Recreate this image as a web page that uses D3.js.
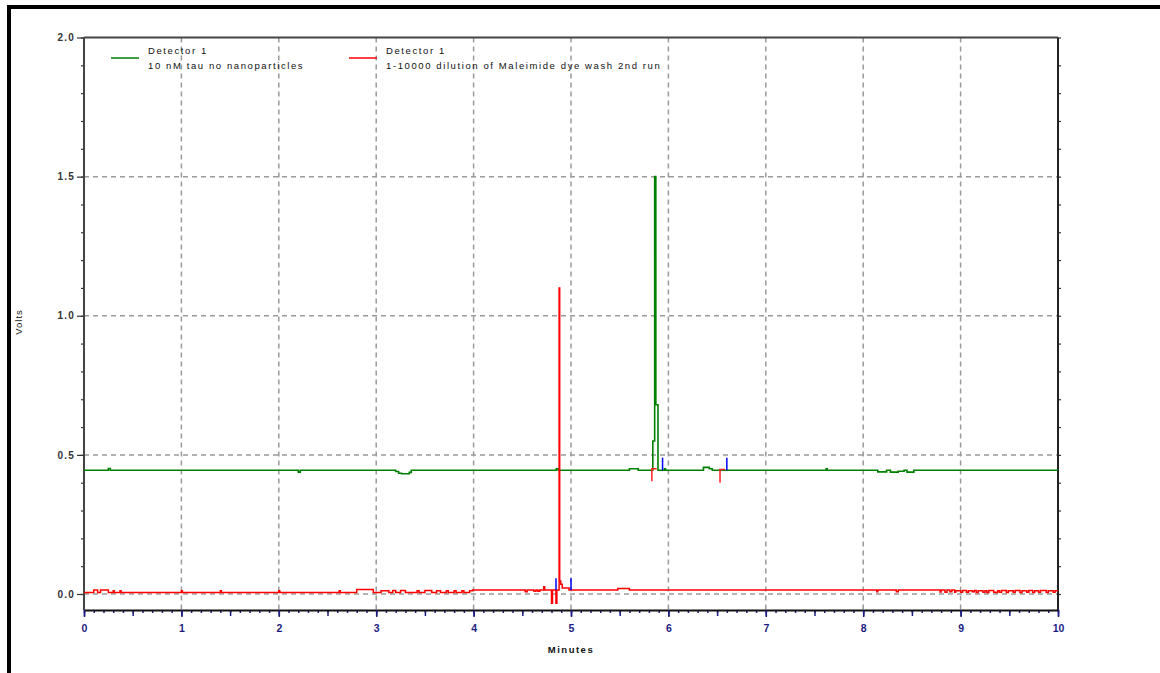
<!DOCTYPE html>
<html>
<head>
<meta charset="utf-8">
<script src="https://cdn.jsdelivr.net/npm/d3@7"></script>
<style>
body { margin: 0; background: #fff; }
svg { display: block; }
.lbl { font-family: "Liberation Sans", Arial, sans-serif; font-size: 9.5px; letter-spacing: 1.6px; fill: #111; }
.xtick text { font-family: "Liberation Sans", Arial, sans-serif; font-size: 10.5px; font-weight: bold; fill: #1c1c80; }
.ytick text { font-family: "Liberation Sans", Arial, sans-serif; font-size: 10px; font-weight: bold; letter-spacing: 1.2px; fill: #333; }
</style>
</head>
<body>
<svg id="chart" width="1160" height="673"></svg>
<script>
// axis labels
const xTickLabels = [0, 1, 2, 3, 4, 5, 6, 7, 8, 9, 10];
const yTickLabels = [0, 0.5, 1.0, 1.5, 2.0];
const xGrid = [1, 2, 3, 4, 5, 6, 7, 8, 9];
const yGrid = [0, 0.5, 1.0, 1.5];

// Detector 1 - 10 nM tau no nanoparticles  [minutes, volts], step-after
const greenSeries = [
    [0, 0.445], [0.25, 0.451], [0.27, 0.445], [2.2, 0.438], [2.22, 0.445],
    [3.2, 0.44], [3.23, 0.434], [3.26, 0.432], [3.34, 0.437], [3.36, 0.445],
    [4.85, 0.45], [4.87, 0.445], [5.6, 0.45], [5.69, 0.445],
    [5.84, 0.55], [5.859, 1.5], [5.871, 0.68], [5.893, 0.445],
    [5.96, 0.45], [5.97, 0.445], [6.36, 0.455], [6.42, 0.45], [6.45, 0.445],
    [7.62, 0.45], [7.63, 0.445], [8.15, 0.439], [8.24, 0.445], [8.28, 0.438],
    [8.36, 0.441], [8.42, 0.445], [8.45, 0.438], [8.52, 0.445], [10, 0.445],
];

// Detector 1 - 1-10000 dilution of Maleimide dye wash 2nd run
const redSeries = [
    [0, 0.005], [0.1, 0.014], [0.14, 0.005], [0.17, 0.014], [0.25, 0.005],
    [0.3, 0.012], [0.31, 0.005], [0.37, 0.012], [0.38, 0.005],
    [1.0, 0.012], [1.01, 0.005], [1.4, 0.012], [1.41, 0.005],
    [2.0, 0.012], [2.01, 0.005], [2.62, 0.012], [2.63, 0.005],
    [2.8, 0.016], [2.97, 0.005], [3.05, 0.012], [3.13, 0.005], [3.17, 0.013],
    [3.2, 0.005], [3.25, 0.013], [3.3, 0.005], [3.42, 0.012], [3.44, 0.005],
    [3.5, 0.013], [3.57, 0.005], [3.62, 0.012], [3.66, 0.005], [3.72, 0.012],
    [3.74, 0.005], [3.8, 0.012], [3.82, 0.005], [3.88, 0.012], [3.9, 0.005],
    [3.96, 0.012], [3.99, 0.014],
    [4.53, 0.008], [4.55, 0.014], [4.62, 0.01], [4.64, 0.014], [4.66, 0.01],
    [4.68, 0.014], [4.72, 0.026], [4.73, 0.014], [4.8, -0.033], [4.81, 0.014],
    [4.845, -0.033], [4.855, 0.014], [4.878, 1.1], [4.884, 0.047], [4.895, 0.035],
    [4.91, 0.022], [4.98, 0.014], [5.48, 0.02], [5.6, 0.014],
    [8.14, 0.008], [8.15, 0.014], [8.34, 0.008], [8.36, 0.014],
    [8.79, 0.007], [8.8, 0.014], [8.84, 0.006], [8.86, 0.014], [8.89, 0.008],
    [8.91, 0.014], [8.94, 0.006], [8.95, 0.012], [9.0, 0.006], [9.02, 0.013],
    [9.06, 0.006], [9.08, 0.012], [9.12, 0.008], [9.14, 0.013], [9.16, 0.005],
    [9.18, 0.012], [9.23, 0.006], [9.25, 0.012], [9.27, 0.005], [9.29, 0.013],
    [9.34, 0.006], [9.36, 0.005], [9.38, 0.012], [9.4, 0.006], [9.42, 0.013],
    [9.47, 0.005], [9.49, 0.012], [9.54, 0.006], [9.56, 0.013], [9.61, 0.005],
    [9.63, 0.012], [9.68, 0.006], [9.7, 0.013], [9.74, 0.005], [9.76, 0.012],
    [9.8, 0.006], [9.82, 0.013], [9.88, 0.005], [9.9, 0.012], [9.95, 0.006],
    [9.97, 0.012], [10, 0.012],
];

// event marks drawn over the traces
const redMarks = [
    [[5.83, 0.405], [5.83, 0.45], [5.88, 0.45]],
    [[6.53, 0.4], [6.53, 0.447], [6.58, 0.447]],
];
const blueMarks = [
    [4.846, 0.014, 0.057],
    [5.0, 0.014, 0.057],
    [5.94, 0.445, 0.49],
    [6.6, 0.445, 0.49],
];

const legendItems = [
    { color: '#008000', lines: ['Detector 1', '10 nM tau no nanoparticles'] },
    { color: '#ff0000', lines: ['Detector 1', '1-10000 dilution of Maleimide dye wash 2nd run'] },
];

const svg = d3.select('#chart');
const x = d3.scaleLinear().domain([0, 10]).range([84, 1058]);
const y = d3.scaleLinear().domain([0, 2]).range([594, 37.5]);
const yMin = y.invert(610);

// page border
svg.append('rect').attr('x', 7).attr('y', 5).attr('width', 1153).attr('height', 4).attr('fill', '#000');
svg.append('rect').attr('x', 7).attr('y', 5).attr('width', 4).attr('height', 668).attr('fill', '#000');

svg.append('clipPath').attr('id', 'plotClip')
    .append('rect')
    .attr('x', x(0)).attr('y', y(2))
    .attr('width', x(10) - x(0)).attr('height', y(yMin) - y(2));

// grid
const grid = svg.append('g').attr('stroke', '#9a9a9a').attr('stroke-width', 1.5).attr('stroke-dasharray', '5,4');
grid.selectAll('.gx').data(xGrid).enter().append('line')
    .attr('x1', d => x(d)).attr('x2', d => x(d))
    .attr('y1', y(2)).attr('y2', y(yMin));
grid.selectAll('.gy').data(yGrid).enter().append('line')
    .attr('x1', x(0)).attr('x2', x(10))
    .attr('y1', d => y(d)).attr('y2', d => y(d));

// bottom axis: minor, half and whole minute ticks
const minor = d3.range(0, 101).map(v => v / 10);
svg.append('g').attr('transform', `translate(0,${y(yMin)})`)
    .call(d3.axisBottom(x).tickValues(minor).tickSize(3).tickSizeOuter(0).tickFormat(''))
    .call(g => g.selectAll('.tick line').attr('stroke', '#1c1c80').attr('stroke-width', 1.5));
svg.append('g').attr('transform', `translate(0,${y(yMin)})`)
    .call(d3.axisBottom(x).tickValues(d3.range(0, 21).map(v => v / 2)).tickSize(6).tickSizeOuter(0).tickFormat(''))
    .call(g => g.selectAll('.tick line').attr('stroke', '#1c1c80').attr('stroke-width', 1.5));
svg.append('g').attr('class', 'xtick').attr('transform', `translate(0,${y(yMin)})`)
    .call(d3.axisBottom(x).tickValues(xTickLabels).tickSize(7).tickSizeOuter(0).tickPadding(8).tickFormat(d3.format('d')))
    .call(g => g.selectAll('.tick line').attr('stroke', '#1c1c80').attr('stroke-width', 1.5))
    .call(g => g.select('.domain').attr('stroke', '#111').attr('stroke-width', 2));

// left axis
const yMinor = d3.range(0, 21).map(v => v / 10);
svg.append('g').attr('transform', `translate(${x(0)},0)`)
    .call(d3.axisLeft(y).tickValues(yMinor).tickSize(3).tickSizeOuter(0).tickFormat(''))
    .call(g => g.selectAll('.tick line').attr('stroke', '#333').attr('stroke-width', 1.2))
    .call(g => g.select('.domain').remove());
svg.append('g').attr('class', 'ytick').attr('transform', `translate(${x(0)},0)`)
    .call(d3.axisLeft(y).tickValues(yTickLabels).tickSize(7).tickSizeOuter(0).tickPadding(2).tickFormat(d3.format('.1f')))
    .call(g => g.selectAll('.tick line').attr('stroke', '#333').attr('stroke-width', 1.2))
    .call(g => g.select('.domain').remove());

// right axis minor ticks
svg.append('g').attr('transform', `translate(${x(10)},0)`)
    .call(d3.axisRight(y).tickValues(yMinor).tickSize(3).tickSizeOuter(0).tickFormat(''))
    .call(g => g.selectAll('.tick line').attr('stroke', '#333').attr('stroke-width', 1.2))
    .call(g => g.select('.domain').remove());

// frame
const frame = svg.append('g').attr('stroke', '#222').attr('stroke-width', 2);
frame.append('line').attr('x1', x(0)).attr('x2', x(0)).attr('y1', y(2)).attr('y2', y(yMin)).attr('stroke', '#444');
frame.append('line').attr('x1', x(10)).attr('x2', x(10)).attr('y1', y(2)).attr('y2', y(yMin));
frame.append('line').attr('x1', x(0)).attr('x2', x(10)).attr('y1', y(2)).attr('y2', y(2)).attr('stroke', '#444');

// traces
const plot = svg.append('g').attr('clip-path', 'url(#plotClip)');
const stepLine = d3.line().x(d => x(d[0])).y(d => y(d[1])).curve(d3.curveStepAfter);
const straight = d3.line().x(d => x(d[0])).y(d => y(d[1]));

plot.append('path').attr('d', stepLine(greenSeries))
    .attr('fill', 'none').attr('stroke', '#008000').attr('stroke-width', 1.6);
plot.append('path').attr('d', stepLine(redSeries))
    .attr('fill', 'none').attr('stroke', '#ff0000').attr('stroke-width', 1.5);
plot.selectAll('.rmark').data(redMarks).enter().append('path')
    .attr('d', d => straight(d))
    .attr('fill', 'none').attr('stroke', '#ff2020').attr('stroke-width', 1.5);
plot.selectAll('.bmark').data(blueMarks).enter().append('line')
    .attr('x1', d => x(d[0])).attr('x2', d => x(d[0]))
    .attr('y1', d => y(d[1])).attr('y2', d => y(d[2]))
    .attr('stroke', '#0000ff').attr('stroke-width', 1.5);

// legend
const legend = svg.selectAll('.legend').data(legendItems).enter().append('g')
    .attr('transform', (d, i) => `translate(${i === 0 ? 111 : 349},0)`);
legend.append('line').attr('x1', 0).attr('x2', 28).attr('y1', 58).attr('y2', 58)
    .attr('stroke', d => d.color).attr('stroke-width', 1.5);
legend.each(function (d) {
    d3.select(this).selectAll('text').data(d.lines).enter().append('text')
        .attr('class', 'lbl')
        .attr('x', 37).attr('y', (t, i) => 54 + i * 15)
        .text(t => t);
});

// axis titles
svg.append('text').attr('class', 'lbl')
    .attr('x', (x(0) + x(10)) / 2).attr('y', 653).attr('text-anchor', 'middle')
    .style('font-weight', 'bold').style('letter-spacing', '1.5px')
    .text('Minutes');
svg.append('text').attr('class', 'lbl')
    .attr('transform', 'translate(22,322) rotate(-90)').attr('text-anchor', 'middle')
    .style('letter-spacing', '1px')
    .text('Volts');
</script>
</body>
</html>
